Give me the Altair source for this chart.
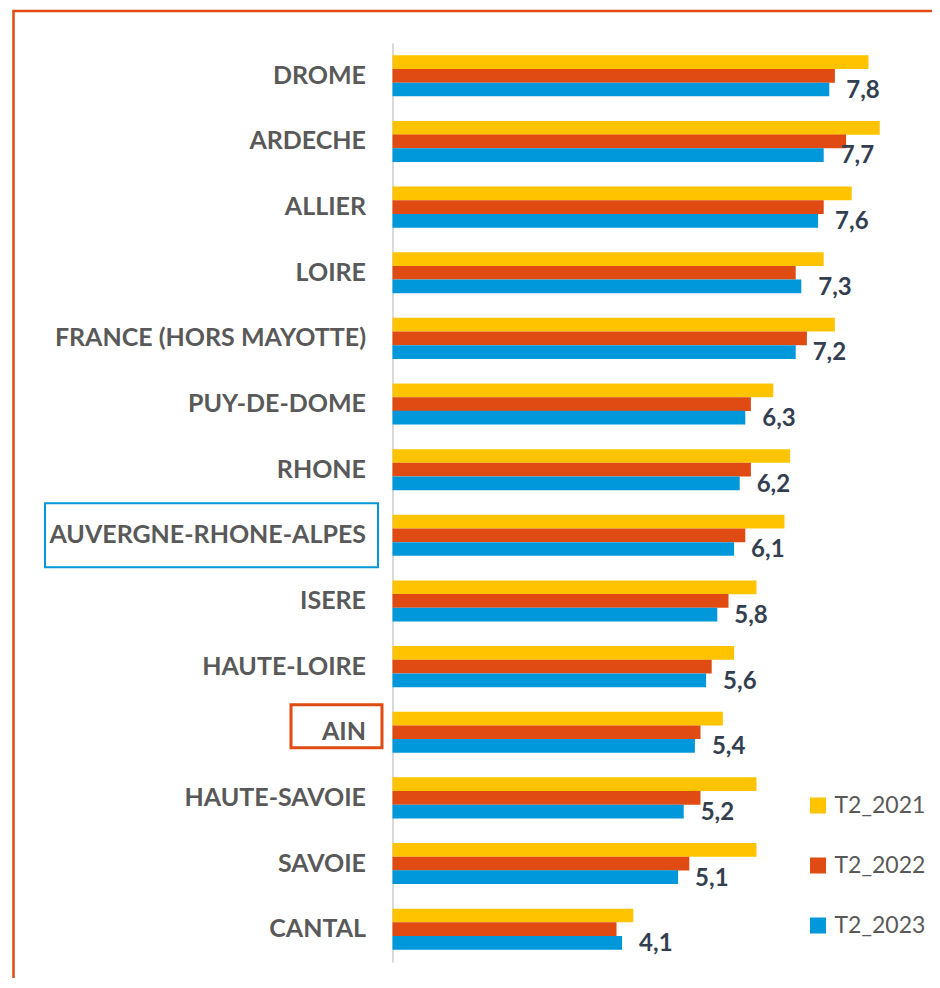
import altair as alt
import pandas as pd

categories = ["DROME", "ARDECHE", "ALLIER", "LOIRE", "FRANCE (HORS MAYOTTE)", "PUY-DE-DOME",
              "RHONE", "AUVERGNE-RHONE-ALPES", "ISERE", "HAUTE-LOIRE", "AIN",
              "HAUTE-SAVOIE", "SAVOIE", "CANTAL"]
series = ["T2_2021", "T2_2022", "T2_2023"]
t2_2021 = [8.5, 8.7, 8.2, 7.7, 7.9, 6.8, 7.1, 7.0, 6.5, 6.1, 5.9, 6.5, 6.5, 4.3]
t2_2022 = [7.9, 8.1, 7.7, 7.2, 7.4, 6.4, 6.4, 6.3, 6.0, 5.7, 5.5, 5.5, 5.3, 4.0]
t2_2023 = [7.8, 7.7, 7.6, 7.3, 7.2, 6.3, 6.2, 6.1, 5.8, 5.6, 5.4, 5.2, 5.1, 4.1]
colors = ["#FFC300", "#E04A13", "#0097DB"]

rows = []
for s, vals in zip(series, [t2_2021, t2_2022, t2_2023]):
    for c, v in zip(categories, vals):
        rows.append({"cat": c, "series": s, "value": v})
df = pd.DataFrame(rows)

lab = pd.DataFrame({"cat": categories, "value": t2_2023,
                    "label": [f"{v:.1f}".replace(".", ",") for v in t2_2023]})

W, H = 504, 919
yscale = alt.Scale(domain=categories, paddingInner=0.375, paddingOuter=0.1875)
xscale = alt.Scale(domain=[0, 9], nice=False)

y_enc = alt.Y("cat:N", sort=categories, scale=yscale, title=None,
              axis=alt.Axis(labelFont="Lato", labelFontWeight="bold", labelFontSize=25,
                            labelColor="#595959", labelPadding=27, labelLimit=500,
                            ticks=False, domainColor="#D9D9D9", domainWidth=2,
                            grid=False))

bars = alt.Chart(df).mark_bar(size=13.7).encode(
    x=alt.X("value:Q", scale=xscale, axis=None),
    y=y_enc,
    yOffset=alt.YOffset("series:N", sort=series, scale=alt.Scale(domain=series)),
    color=alt.Color("series:N", sort=series,
                    scale=alt.Scale(domain=series, range=colors),
                    legend=alt.Legend(title=None, orient="none", legendX=414, legendY=751,
                                      symbolType="square", symbolSize=256,
                                      symbolStrokeWidth=0, labelFont="Lato",
                                      labelFontSize=23, labelColor="#595959",
                                      rowPadding=36, labelOffset=5)),
)

labels = alt.Chart(lab).mark_text(align="left", baseline="middle", dx=17, dy=15,
                                  font="Lato", fontWeight="bold", fontSize=24,
                                  color="#333F50").encode(
    x=alt.X("value:Q", scale=xscale),
    y=alt.Y("cat:N", sort=categories, scale=yscale),
    text="label:N",
)

box_ara = alt.Chart(pd.DataFrame({"cat": ["AUVERGNE-RHONE-ALPES"]})).mark_point(
    shape="M-5.203,-1H5.203V1H-5.203Z", size=4096, filled=False,
    stroke="#0097DB", strokeWidth=2, opacity=1).encode(
    y=alt.Y("cat:N", sort=categories, scale=yscale),
    x=alt.value(-181),
)

box_ain = alt.Chart(pd.DataFrame({"cat": ["AIN"]})).mark_point(
    shape="M-2.116,-1H2.116V1H-2.116Z", size=1849, filled=False,
    stroke="#E04A13", strokeWidth=3, opacity=1, yOffset=-6).encode(
    y=alt.Y("cat:N", sort=categories, scale=yscale),
    x=alt.value(-56),
)

border = alt.Chart(pd.DataFrame({"k": [0]})).mark_rect(
    fill=None, stroke="#E04A13", strokeWidth=2.5).encode(
    x=alt.value(-379), x2=alt.value(700), y=alt.value(-32), y2=alt.value(1100),
)

chart = alt.layer(border, bars, labels, box_ara, box_ain).properties(
    width=W, height=H,
    autosize="none",
    padding={"left": 384.5, "top": 35, "right": 35, "bottom": 16},
).configure_view(stroke=None)

chart.save("out.html", embed_options={"renderer": "svg", "actions": False})
